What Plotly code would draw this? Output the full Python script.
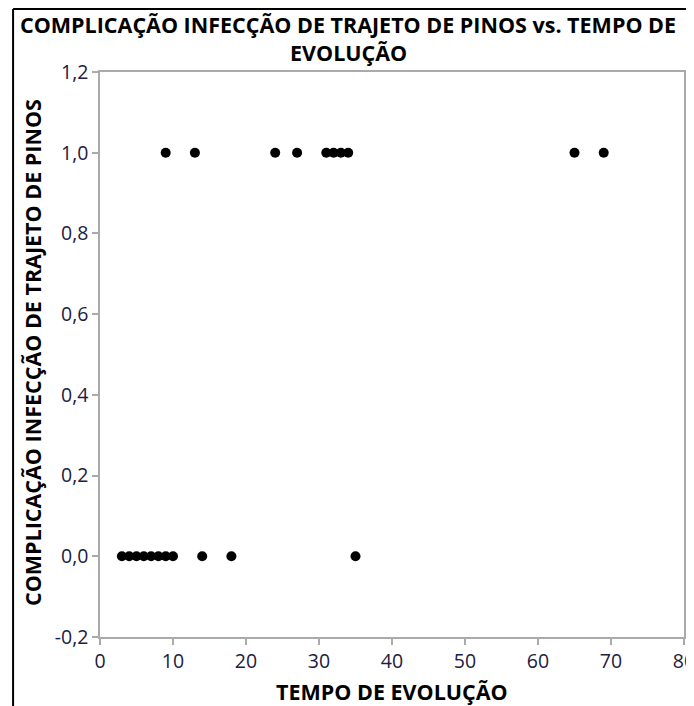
import plotly.graph_objects as go

# Data
tempo_zero = [3, 4, 5, 6, 7, 8, 9, 10, 14, 18, 35]
infec_zero = [0] * len(tempo_zero)
tempo_um = [9, 13, 24, 27, 31, 32, 33, 34, 65, 69]
infec_um = [1] * len(tempo_um)

tempo = tempo_zero + tempo_um
infeccao = infec_zero + infec_um

x_ticks = [0, 10, 20, 30, 40, 50, 60, 70, 80]
y_ticks = [-0.2, 0.0, 0.2, 0.4, 0.6, 0.8, 1.0, 1.2]
y_tick_text = ["-0,2", "0,0", "0,2", "0,4", "0,6", "0,8", "1,0", "1,2"]

title_l1 = "COMPLICAÇÃO INFECÇÃO DE TRAJETO DE PINOS vs. TEMPO DE"
title_l2 = "EVOLUÇÃO"
x_title = "TEMPO DE EVOLUÇÃO"
y_title = "COMPLICAÇÃO INFECÇÃO DE TRAJETO DE PINOS"

# The page body has an 8px margin, so the figure is sized to fit the window
OFF = 8
W, H = 694 - OFF, 706 - OFF
L, T = 100 - OFF, 72 - OFF
R = W - (684.5 - OFF)
B = H - (637 - OFF)
pw = W - L - R
ph = H - T - B

def px_x(px):
    return (px - OFF - L) / pw

def px_y(py):
    return 1 - (py - OFF - T) / ph

fig = go.Figure()
fig.add_trace(go.Scatter(
    x=tempo, y=infeccao, mode="markers",
    marker=dict(color="black", size=10, line=dict(width=0)),
    showlegend=False,
))

font_fam = "Open Sans, Noto Sans, sans-serif"
tick_color = "#1c2040"
axis_gray = "#aaaaaa"
bold = dict(color="black", family=font_fam, weight="bold")

fig.update_layout(
    width=W, height=H,
    margin=dict(l=L, r=R, t=T, b=B, autoexpand=False),
    paper_bgcolor="white", plot_bgcolor="white",
    separators=",.",
    font=dict(family=font_fam),
    xaxis=dict(
        range=[0, 80], tickvals=x_ticks, showgrid=False, zeroline=False,
        showline=True, linecolor=axis_gray, linewidth=1.5, mirror=True,
        ticks="outside", ticklen=6, tickcolor=axis_gray, tickwidth=1.5,
        tickfont=dict(size=19.5, color=tick_color, family=font_fam),
        automargin=False, ticklabeloverflow="allow",
    ),
    yaxis=dict(
        range=[-0.2, 1.2], tickvals=y_ticks, ticktext=y_tick_text,
        showgrid=False, zeroline=False,
        showline=True, linecolor=axis_gray, linewidth=1.5, mirror=True,
        ticks="outside", ticklen=6, tickcolor=axis_gray, tickwidth=1.5,
        tickfont=dict(size=19.5, color=tick_color, family=font_fam),
        automargin=False,
    ),
)

annots = [
    dict(text=title_l1, x=px_x(348), y=px_y(24), font=dict(size=21.5, **bold)),
    dict(text=title_l2, x=px_x(349), y=px_y(53), font=dict(size=21.5, **bold)),
    dict(text=x_title, x=px_x(392), y=px_y(691), font=dict(size=21.5, **bold)),
    dict(text=y_title, x=px_x(32), y=px_y(353), font=dict(size=21.5, **bold), textangle=-90),
]
for a in annots:
    fig.add_annotation(xref="paper", yref="paper", showarrow=False,
                       xanchor="center", yanchor="middle", **a)

# Black frame (left and top) as in the cropped reference
x_left = px_x(13)
y_top = 1 + (T - 1) / ph
y_bot = -(B + 2) / ph
fig.add_shape(type="line", xref="paper", yref="paper",
              x0=x_left, x1=(W + 2 - L) / pw, y0=y_top, y1=y_top,
              line=dict(color="black", width=2))
fig.add_shape(type="line", xref="paper", yref="paper",
              x0=x_left, x1=x_left, y0=y_top, y1=y_bot,
              line=dict(color="black", width=2))

fig.write_html("out.html")
